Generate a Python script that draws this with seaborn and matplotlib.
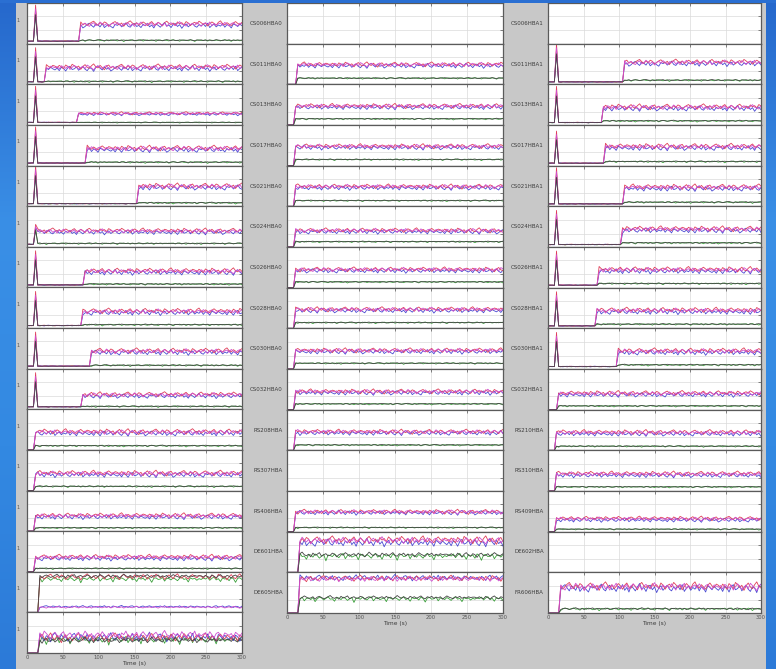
import numpy as np
import pandas as pd
import matplotlib
matplotlib.use("Agg")
import matplotlib.pyplot as plt
from matplotlib.patches import Rectangle
from matplotlib.colors import LinearSegmentedColormap
import seaborn as sns

sns.set_theme(style="white")
plt.rcParams['font.family'] = ['DejaVu Sans']

# ---------------------------------------------------------------- data
# sample spacing of the monitored series (s)
STEP = 3
SPIKE_T = 12

# fluctuation patterns of the individual traces (one sample every 3 s)
wig_red = [
    0.3, -0.2, 0.5, 0.1, -0.4, 0.6, 0.2, -0.3, 0.8, 0.4,
    -0.1, 0.3, -0.6, 0.2, 0.7, 0.0, -0.3, 0.4, 0.9, 0.1,
    -0.2, 0.5, -0.1, -0.7, 0.3, 0.6, -0.2, 0.2, -0.4, 0.1,
    0.5, 0.8, 0.2, -0.3, 0.4, -0.1, 0.6, 0.3, -0.5, 0.0,
    0.4, 0.7, 0.1, -0.2, 0.3, -0.6, 0.2, 0.5, 0.9, 0.3,
    -0.1, 0.4, -0.3, 0.1, 0.6, 0.2, -0.4, 0.3, 0.7, 0.0,
    -0.2, 0.5, 0.1, -0.5, 0.4, 0.8, 0.2, -0.1, 0.3, -0.3,
    0.6, 0.1, 0.4, -0.2, 0.7, 0.3, -0.4, 0.2, 0.5, 0.0,
    0.8, 0.4, -0.1, 0.3, -0.5, 0.1, 0.6, 0.2, -0.3, 0.5,
    0.9, 0.1, -0.2, 0.4, 0.0, -0.4, 0.3, 0.7, 0.2, -0.1,
    0.5]
wig_blue = [
    -0.3, 0.2, -0.5, 0.4, 0.1, -0.6, 0.3, 0.7, -0.2, 0.0,
    0.5, -0.4, 0.2, 0.6, -0.1, -0.5, 0.3, 0.1, -0.7, 0.4,
    0.8, 0.2, -0.3, 0.5, -0.1, 0.3, -0.6, -0.2, 0.4, 0.7,
    0.1, -0.4, 0.5, 0.2, -0.3, 0.6, -0.5, 0.0, 0.3, -0.2,
    -0.6, 0.4, 0.1, 0.5, -0.3, 0.2, 0.8, -0.1, -0.4, 0.3,
    0.6, -0.2, 0.1, -0.5, 0.4, 0.0, 0.7, -0.3, 0.2, -0.6,
    0.5, 0.1, -0.4, 0.3, 0.9, -0.1, 0.2, -0.5, 0.4, 0.6,
    -0.2, 0.3, -0.7, 0.1, 0.5, -0.3, 0.2, 0.6, -0.1, -0.4,
    0.3, 0.0, 0.5, -0.2, 0.7, -0.5, 0.1, 0.4, -0.3, 0.2,
    -0.1, 0.6, -0.4, 0.3, 0.1, -0.6, 0.5, 0.2, -0.2, 0.4,
    0.0]
wig_magenta = [
    0.1, 0.4, -0.2, 0.6, 0.3, -0.1, 0.5, -0.4, 0.2, 0.7,
    0.3, -0.3, 0.1, 0.5, -0.2, 0.8, 0.4, 0.0, -0.5, 0.3,
    0.6, 0.1, -0.1, 0.4, 0.7, -0.3, 0.2, 0.5, 0.0, -0.4,
    0.3, 0.6, -0.2, 0.1, 0.8, 0.3, -0.1, 0.4, -0.5, 0.2,
    0.5, 0.0, 0.7, 0.2, -0.3, 0.4, 0.1, 0.6, -0.2, 0.3,
    -0.4, 0.5, 0.2, 0.8, 0.0, -0.2, 0.4, 0.1, 0.6, -0.3,
    0.3, 0.7, 0.2, -0.1, 0.5, -0.4, 0.3, 0.6, 0.1, -0.2,
    0.4, 0.9, 0.2, 0.0, -0.3, 0.5, 0.1, 0.4, -0.1, 0.7,
    0.2, -0.4, 0.3, 0.6, 0.1, 0.8, -0.2, 0.4, 0.0, 0.3,
    0.5, -0.1, 0.7, 0.2, -0.3, 0.4, 0.6, 0.1, -0.2, 0.5,
    0.3]
wig_black = [
    0.2, -0.1, 0.3, 0.0, -0.2, 0.4, 0.1, -0.3, 0.2, 0.5,
    0.0, -0.2, 0.3, 0.1, -0.4, 0.2, 0.4, -0.1, 0.0, 0.3,
    -0.2, 0.1, 0.5, 0.2, -0.1, 0.0, 0.3, -0.3, 0.2, 0.4,
    0.1, -0.2, 0.0, 0.3, 0.6, 0.1, -0.1, 0.2, -0.3, 0.4,
    0.0, 0.2, 0.5, -0.2, 0.1, 0.3, -0.1, 0.0, 0.4, 0.2,
    -0.3, 0.1, 0.3, 0.0, 0.5, 0.2, -0.2, 0.1, 0.3, -0.1,
    0.4, 0.0, 0.2, -0.3, 0.1, 0.6, 0.2, -0.1, 0.3, 0.0,
    -0.2, 0.4, 0.1, 0.3, -0.1, 0.2, 0.5, 0.0, -0.2, 0.3,
    0.1, 0.4, -0.1, 0.2, 0.0, 0.3, -0.3, 0.1, 0.5, 0.2,
    0.0, -0.2, 0.3, 0.1, 0.4, -0.1, 0.2, 0.0, 0.3, 0.1,
    0.2]
wig_green = [
    -0.1, 0.3, 0.0, 0.4, -0.3, 0.2, 0.5, -0.2, 0.1, -0.6,
    0.3, 0.0, 0.2, -0.4, 0.4, 0.1, -0.8, 0.2, 0.3, -0.1,
    0.0, 0.4, -0.5, 0.1, 0.2, -0.2, 0.3, -0.7, 0.0, 0.4,
    0.2, -0.3, 0.1, 0.5, -0.1, 0.0, -0.6, 0.3, 0.2, -0.2,
    0.4, 0.1, -0.4, 0.0, 0.3, -0.9, 0.2, 0.1, -0.1, 0.4,
    0.0, -0.3, 0.2, 0.5, -0.5, 0.1, 0.3, -0.2, 0.0, 0.2,
    -0.7, 0.4, 0.1, -0.1, 0.3, 0.0, -0.4, 0.2, 0.5, -0.2,
    0.1, -0.6, 0.3, 0.0, 0.2, -0.3, 0.4, 0.1, -0.8, 0.2,
    0.3, -0.1, 0.0, 0.4, -0.5, 0.2, 0.1, -0.2, 0.3, 0.0,
    -0.4, 0.2, 0.5, -0.1, 0.1, -0.7, 0.3, 0.0, 0.2, -0.3,
    0.1]

# drawing order of the traces (last one on top)
trace_names = ["green", "blue", "red", "magenta", "black"]
trace_colors = {"red": "#e0405a", "blue": "#4a4ad2", "magenta": "#cf4fcf",
                "black": "#444444", "green": "#3aa03a"}
wiggles = {"red": wig_red, "blue": wig_blue, "magenta": wig_magenta,
           "black": wig_black, "green": wig_green}
# relative spike heights of the traces
spike_share = {"red": 1.0, "blue": 0.85, "magenta": 0.9, "black": 0.75, "green": 0.8}

# --- left column (16 sub-stations, names fall outside the window)
onset_c1 = [75, 25, 72, 82, 155, 15, 80, 78, 90, 78, 11, 11, 11, 11, 18, 18]
spike_c1 = [0.95, 0.9, 0.95, 0.95, 1.0, 0.55, 0.9, 0.9, 0.9, 0.9, 0, 0, 0, 0, 0, 0]
# plateau levels: (red, blue, magenta, black, green)
levels_c1 = [(0.48, 0.44, 0.46, 0.08, 0.08), (0.42, 0.38, 0.40, 0.07, 0.07),
             (0.28, 0.26, 0.27, 0.06, 0.06), (0.42, 0.38, 0.40, 0.08, 0.08),
             (0.49, 0.45, 0.47, 0.08, 0.08), (0.39, 0.35, 0.37, 0.08, 0.08),
             (0.40, 0.36, 0.38, 0.08, 0.08), (0.41, 0.37, 0.39, 0.08, 0.08),
             (0.43, 0.39, 0.41, 0.08, 0.08), (0.36, 0.32, 0.34, 0.07, 0.07),
             (0.44, 0.40, 0.42, 0.10, 0.10), (0.42, 0.38, 0.40, 0.10, 0.10),
             (0.38, 0.34, 0.36, 0.08, 0.08), (0.36, 0.32, 0.34, 0.08, 0.08),
             (0.86, 0.14, 0.12, 0.88, 0.82), (0.36, 0.38, 0.42, 0.30, 0.33)]
amp_c1 = [0.09, 0.09, 0.05, 0.09, 0.09, 0.08, 0.09, 0.09, 0.09, 0.08,
          0.09, 0.09, 0.08, 0.08, 0.10, 0.15]
ticklabel_c1 = "1"

# --- middle column (15 sub-stations)
labels_c2 = ["CS006HBA0", "CS011HBA0", "CS013HBA0", "CS017HBA0", "CS021HBA0",
             "CS024HBA0", "CS026HBA0", "CS028HBA0", "CS030HBA0", "CS032HBA0",
             "RS208HBA", "RS307HBA", "RS406HBA", "DE601HBA", "DE605HBA"]
onset_c2 = [None, 15, 11, 11, 11, 11, 11, 11, 11, 11, 11, None, 11, 18, 18]
spike_c2 = [0] * 15
levels_c2 = [None, (0.48, 0.45, 0.47, 0.15, 0.15), (0.46, 0.43, 0.45, 0.15, 0.15),
             (0.47, 0.44, 0.46, 0.15, 0.15), (0.48, 0.45, 0.47, 0.14, 0.14),
             (0.40, 0.37, 0.39, 0.13, 0.13), (0.44, 0.41, 0.43, 0.14, 0.14),
             (0.46, 0.43, 0.45, 0.14, 0.14), (0.45, 0.42, 0.44, 0.14, 0.14),
             (0.44, 0.41, 0.43, 0.14, 0.14), (0.45, 0.42, 0.44, 0.13, 0.13),
             None, (0.48, 0.46, 0.47, 0.10, 0.10),
             (0.78, 0.72, 0.76, 0.42, 0.40), (0.84, 0.86, 0.82, 0.37, 0.35)]
amp_c2 = [0, 0.08, 0.08, 0.08, 0.08, 0.08, 0.08, 0.08, 0.08, 0.08, 0.08,
          0, 0.08, 0.13, 0.10]

# --- right column (15 sub-stations)
labels_c3 = ["CS006HBA1", "CS011HBA1", "CS013HBA1", "CS017HBA1", "CS021HBA1",
             "CS024HBA1", "CS026HBA1", "CS028HBA1", "CS030HBA1", "CS032HBA1",
             "RS210HBA", "RS310HBA", "RS409HBA", "DE602HBA", "FR606HBA"]
onset_c3 = [None, 108, 78, 80, 108, 105, 70, 68, 98, 14, 10, 10, 10, None, 17]
spike_c3 = [0, 1.0, 0.95, 0.85, 0.95, 0.9, 0.9, 0.9, 0.9, 0, 0, 0, 0, 0, 0]
levels_c3 = [None, (0.54, 0.50, 0.52, 0.10, 0.10), (0.44, 0.40, 0.42, 0.10, 0.10),
             (0.47, 0.43, 0.45, 0.10, 0.10), (0.47, 0.43, 0.45, 0.10, 0.10),
             (0.44, 0.40, 0.42, 0.10, 0.10), (0.44, 0.40, 0.42, 0.10, 0.10),
             (0.44, 0.40, 0.42, 0.10, 0.10), (0.44, 0.40, 0.42, 0.10, 0.10),
             (0.40, 0.36, 0.38, 0.09, 0.09), (0.44, 0.40, 0.42, 0.10, 0.10),
             (0.42, 0.38, 0.40, 0.10, 0.10), (0.32, 0.28, 0.30, 0.06, 0.06),
             None, (0.64, 0.60, 0.62, 0.10, 0.10)]
amp_c3 = [0, 0.09, 0.09, 0.09, 0.09, 0.09, 0.09, 0.09, 0.09, 0.08, 0.08,
          0.08, 0.07, 0, 0.14]

xticks = [0, 50, 100, 150, 200, 250, 300]

# ---------------------------------------------------------------- layout
W, H = 776, 669
FIG_GRAY = "#c8c8c8"
fig = plt.figure(figsize=(W / 100, H / 100), dpi=100, facecolor=FIG_GRAY)

columns = [
    dict(x0=27, x1=242, top=3, bottom=653, labels=None, nrows=len(onset_c1),
         onset=onset_c1, spike=spike_c1, levels=levels_c1, amp=amp_c1),
    dict(x0=287, x1=503, top=3, bottom=613, labels=labels_c2, nrows=len(labels_c2),
         onset=onset_c2, spike=spike_c2, levels=levels_c2, amp=amp_c2),
    dict(x0=548, x1=761, top=3, bottom=613, labels=labels_c3, nrows=len(labels_c3),
         onset=onset_c3, spike=spike_c3, levels=levels_c3, amp=amp_c3),
]

n = min(len(w) for w in wiggles.values())
t = np.arange(n) * STEP


def panel_frame(onset, spike, levels, amp, shift):
    rows = []
    for name, lvl in zip(["red", "blue", "magenta", "black", "green"], levels):
        w = np.roll(np.asarray(wiggles[name][:n], dtype=float), shift)
        a = amp if lvl > 0.2 else amp * 0.35
        base = 0.06 if spike > 0 else 0.0
        y = np.where(t < onset, base + 0.01 * w * (spike > 0), lvl + a * w)
        if spike > 0:
            y[t == SPIKE_T] = spike * spike_share[name]
        rows.append(pd.DataFrame({"t": t, "v": y, "trace": name}))
    return pd.concat(rows, ignore_index=True)


k = 0
for col in columns:
    nrows = col["nrows"]
    rh = (col["bottom"] - col["top"]) / nrows
    for i in range(nrows):
        y_top = col["top"] + i * rh
        ax = fig.add_axes([col["x0"] / W, 1 - (y_top + rh) / H,
                           (col["x1"] - col["x0"]) / W, rh / H])
        ax.set_facecolor("white")
        lv = col["levels"][i]
        if lv is not None:
            df = panel_frame(col["onset"][i], col["spike"][i], lv,
                             col["amp"][i], shift=(k * 13) % n)
            sns.lineplot(data=df, x="t", y="v", hue="trace",
                         hue_order=trace_names, palette=trace_colors,
                         estimator=None, sort=False, legend=False,
                         linewidth=0.6, ax=ax)
        k += 1
        ax.set_xlim(0, 300)
        ax.set_ylim(0, 1)
        ax.set_xticks(xticks)
        ax.set_yticks([0.33, 0.67])
        ax.grid(True, color="#dadada", linewidth=0.5)
        ax.set_axisbelow(True)
        for s in ax.spines.values():
            s.set_color("#5a5a5a")
            s.set_linewidth(0.9)
        last = i == nrows - 1
        ax.tick_params(direction="in", length=2, width=0.5, colors="#555555",
                       top=True, right=True, labelleft=False,
                       labelbottom=last, labelsize=3.8, pad=1.5)
        if col["labels"] is not None:
            ax.set_ylabel(col["labels"][i], rotation=0, ha="right", va="center",
                          fontsize=4, labelpad=3, color="#3c3c3c")
        else:
            ax.set_ylabel("")
            ax.text(-0.035, 0.58, ticklabel_c1, transform=ax.transAxes,
                    ha="right", va="center", fontsize=3.6, color="#555555")
        if last:
            ax.set_xlabel("Time (s)", fontsize=4.2, labelpad=1, color="#3c3c3c")
        else:
            ax.set_xlabel("")

# ---------------------------------------------------------------- frame
grad = np.linspace(0, 1, 256).reshape(-1, 1)
blue_cmap = LinearSegmentedColormap.from_list(
    "desk", ["#2668cc", "#3a8fe6", "#3389e2", "#2c7ad8"])
ax_left = fig.add_axes([0, 0, 16 / W, 1], zorder=20)
ax_left.imshow(grad, aspect="auto", cmap=blue_cmap, extent=[0, 1, 0, 1])
ax_left.set_axis_off()
ax_right = fig.add_axes([766 / W, 0, 10 / W, 1], zorder=20)
ax_right.imshow(grad, aspect="auto", cmap=blue_cmap, extent=[0, 1, 0, 1])
ax_right.set_axis_off()
fig.add_artist(Rectangle((0, 1 - 3 / H), 1, 3 / H, transform=fig.transFigure,
                         facecolor="#2a6fd2", edgecolor="none", zorder=21))

fig.savefig("out.png", dpi=100, facecolor=FIG_GRAY)
